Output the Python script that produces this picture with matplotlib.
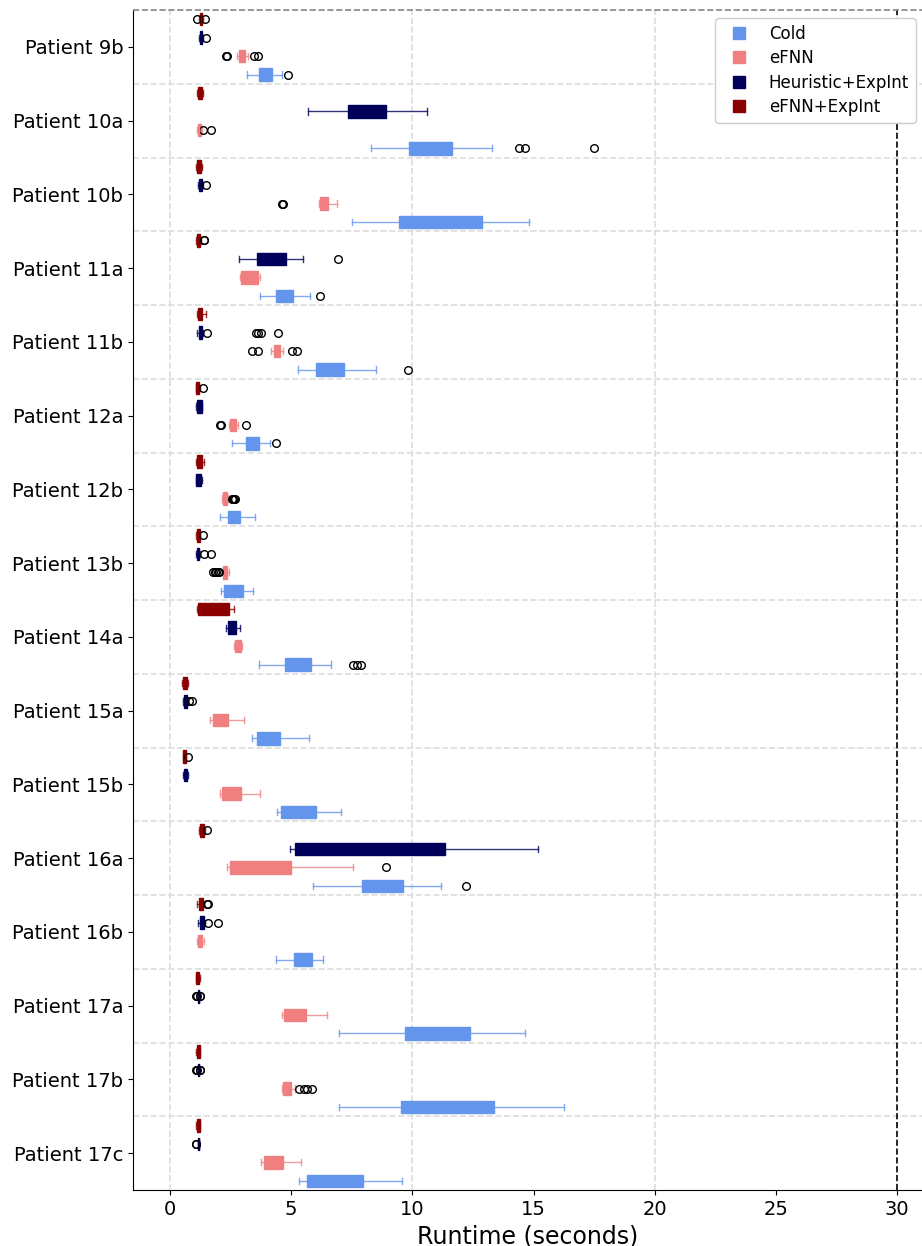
import matplotlib
matplotlib.use("Agg")
import matplotlib.pyplot as plt
from matplotlib.lines import Line2D

patients = ["Patient 9b", "Patient 10a", "Patient 10b", "Patient 11a", "Patient 11b",
            "Patient 12a", "Patient 12b", "Patient 13b", "Patient 14a", "Patient 15a",
            "Patient 15b", "Patient 16a", "Patient 16b", "Patient 17a", "Patient 17b",
            "Patient 17c"]

# (whisker low, q1, median, q3, whisker high) in seconds, one row per patient
cold_box = [
    (3.16, 3.69, 3.95, 4.20, 4.61), (8.28, 9.86, 10.7, 11.63, 13.28),
    (7.50, 9.45, 11.0, 12.86, 14.82), (3.73, 4.37, 4.7, 5.06, 5.79),
    (5.27, 6.03, 6.6, 7.17, 8.49), (2.55, 3.15, 3.4, 3.65, 4.13),
    (2.04, 2.41, 2.65, 2.89, 3.51), (2.12, 2.24, 2.6, 3.00, 3.44),
    (3.69, 4.73, 5.3, 5.82, 6.66), (3.37, 3.59, 4.0, 4.53, 5.75),
    (4.40, 4.58, 5.3, 6.03, 7.07), (5.89, 7.92, 8.8, 9.60, 11.16),
    (4.37, 5.13, 5.5, 5.86, 6.30), (6.99, 9.71, 11.0, 12.37, 14.64),
    (6.99, 9.52, 11.5, 13.35, 16.24), (5.31, 5.67, 6.8, 7.98, 9.56),
]
cold_out = [[4.88], [14.38, 14.65, 17.5], [], [6.20], [9.80], [4.37], [], [],
            [7.55, 7.72, 7.88], [], [], [12.20], [], [], [], []]

efnn_box = [
    (2.78, 2.86, 2.98, 3.10, 3.23), (1.10, 1.14, 1.2, 1.28, 1.30),
    (6.15, 6.19, 6.35, 6.51, 6.90), (2.89, 2.94, 3.3, 3.63, 3.73),
    (4.18, 4.29, 4.42, 4.55, 4.65), (2.42, 2.48, 2.6, 2.72, 2.80),
    (2.13, 2.19, 2.26, 2.34, 2.40), (2.16, 2.19, 2.27, 2.35, 2.45),
    (2.64, 2.68, 2.8, 2.92, 2.98), (1.65, 1.77, 2.05, 2.39, 3.07),
    (2.05, 2.16, 2.5, 2.94, 3.70), (2.35, 2.49, 3.6, 4.97, 7.55),
    (1.10, 1.14, 1.24, 1.33, 1.40), (4.61, 4.70, 5.1, 5.61, 6.47),
    (4.61, 4.65, 4.8, 4.98, 5.15), (3.74, 3.89, 4.2, 4.65, 5.39),
]
efnn_out = [[2.31, 2.33, 3.47, 3.64], [1.35, 1.69], [4.63, 4.66], [],
            [3.39, 3.64, 5.05, 5.25], [2.07, 2.11, 3.14], [2.56, 2.60, 2.63, 2.68],
            [1.78, 1.84, 1.90, 1.96, 2.02], [], [], [], [8.90], [], [],
            [5.32, 5.54, 5.64, 5.86], []]

heur_box = [
    (1.20, 1.24, 1.28, 1.32, 1.36), (5.71, 7.35, 8.1, 8.90, 10.59),
    (1.15, 1.20, 1.25, 1.30, 1.34), (2.86, 3.59, 4.2, 4.79, 5.50),
    (1.10, 1.20, 1.25, 1.30, 1.34), (1.08, 1.12, 1.2, 1.30, 1.33),
    (1.06, 1.08, 1.18, 1.28, 1.30), (1.08, 1.10, 1.15, 1.20, 1.22),
    (2.30, 2.41, 2.55, 2.71, 2.90), (0.55, 0.58, 0.63, 0.69, 0.72),
    (0.52, 0.57, 0.63, 0.69, 0.75), (4.94, 5.16, 8.0, 11.34, 15.2),
    (1.16, 1.24, 1.32, 1.40, 1.43), (1.16, 1.17, 1.18, 1.19, 1.20),
    (1.16, 1.17, 1.18, 1.19, 1.20), (1.16, 1.17, 1.18, 1.19, 1.20),
]
heur_out = [[1.49], [], [1.49], [6.91], [1.54, 3.54, 3.64, 3.74, 4.44], [], [],
            [1.40, 1.68], [], [0.77, 0.91], [], [], [1.56, 1.98],
            [1.08, 1.12, 1.22, 1.25], [1.08, 1.12, 1.22, 1.25], [1.05, 1.08]]

efnn_exp_box = [
    (1.18, 1.22, 1.26, 1.30, 1.34), (1.10, 1.16, 1.23, 1.30, 1.37),
    (1.08, 1.12, 1.2, 1.28, 1.32), (1.06, 1.10, 1.16, 1.24, 1.28),
    (1.10, 1.15, 1.22, 1.30, 1.47), (1.05, 1.07, 1.14, 1.20, 1.24),
    (1.08, 1.13, 1.22, 1.32, 1.38), (1.08, 1.10, 1.16, 1.22, 1.24),
    (1.10, 1.14, 1.5, 2.45, 2.62), (0.48, 0.52, 0.6, 0.69, 0.72),
    (0.52, 0.55, 0.6, 0.65, 0.67), (1.18, 1.24, 1.32, 1.40, 1.45),
    (1.10, 1.20, 1.27, 1.35, 1.36), (1.07, 1.07, 1.14, 1.21, 1.25),
    (1.07, 1.10, 1.16, 1.24, 1.24), (1.09, 1.10, 1.16, 1.22, 1.22),
]
efnn_exp_out = [[1.10, 1.44], [], [], [1.38, 1.40], [], [1.35], [], [1.35], [], [],
                [0.76], [1.51], [1.52, 1.55], [], [], []]

time_limit = 30

# top to bottom inside each patient group
methods = [
    ("eFNN+ExpInt", efnn_exp_box, efnn_exp_out, "#8b0000", -0.375),
    ("Heuristic+ExpInt", heur_box, heur_out, "#00005a", -0.125),
    ("eFNN", efnn_box, efnn_out, "#f08080", 0.125),
    ("Cold", cold_box, cold_out, "#6495ed", 0.375),
]

fig = plt.figure(figsize=(9.22, 12.46), dpi=100)
ax = fig.add_axes([133 / 922, 56 / 1246, 789 / 922, 1180 / 1246])

for name, boxes, outs, color, off in methods:
    stats = []
    for b, f in zip(boxes, outs):
        stats.append(dict(whislo=b[0], q1=b[1], med=b[2], q3=b[3], whishi=b[4], fliers=f))
    pos = [i + off for i in range(len(patients))]
    ax.bxp(stats, positions=pos, widths=0.17, orientation="horizontal",
           patch_artist=True, manage_ticks=False,
           boxprops=dict(facecolor=color, edgecolor=color, linewidth=1, alpha=1),
           whiskerprops=dict(color=color, linewidth=1, alpha=0.8),
           capprops=dict(color=color, linewidth=1, alpha=0.8),
           medianprops=dict(color=color, linewidth=1),
           flierprops=dict(marker="o", markerfacecolor="none",
                           markeredgecolor="black", markersize=5.5, markeredgewidth=1))

# separators between patients
for i in range(len(patients)):
    ax.axhline(i - 0.5, color="#dddddd", linestyle="--", linewidth=1.2, zorder=0)
ax.axhline(-0.5, color="#888888", linestyle="--", linewidth=1.2, zorder=3, clip_on=False)
for x in [0, 10, 20]:
    ax.axvline(x, color="#dddddd", linestyle="--", linewidth=1.2, zorder=0)
ax.axvline(time_limit, color="black", linestyle="--", linewidth=1.2)

ax.set_yticks(range(len(patients)))
ax.set_yticklabels(patients, fontsize=14)
ax.set_ylim(15.5, -0.5)
ax.set_xlim(-1.53, 31.03)
ax.set_xticks([0, 5, 10, 15, 20, 25, 30])
ax.tick_params(axis="x", labelsize=14)
ax.set_xlabel("Runtime (seconds)", fontsize=17)
ax.spines["top"].set_visible(False)
ax.spines["right"].set_visible(False)

handles = [Line2D([], [], linestyle="none", marker="s", markersize=8,
                  markerfacecolor=m[3], markeredgecolor=m[3], label=m[0])
           for m in reversed(methods)]
ax.legend(handles=handles, loc="upper left", bbox_to_anchor=(0.7275, 1.0),
          fontsize=12, handlelength=2.0, handletextpad=0.8, labelspacing=0.38,
          framealpha=1)

fig.savefig("out.png", dpi=100)
